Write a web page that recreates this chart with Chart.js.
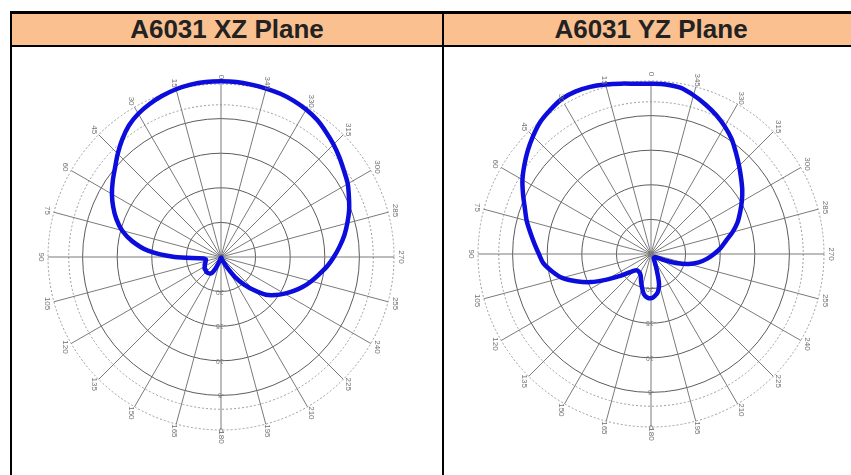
<!DOCTYPE html>
<html>
<head>
<meta charset="utf-8">
<title>A6031 radiation pattern</title>
<script src="https://cdn.jsdelivr.net/npm/chart.js@4.4.1/dist/chart.umd.min.js"></script>
<style>
  body { margin: 0; background: #fff; width: 851px; height: 475px; overflow: hidden; position: relative; font-family: "Liberation Sans", Arial, sans-serif; }
  .line { position: absolute; background: #000; }
  .head { position: absolute; top: 14px; height: 31px; background: #fac090; color: #222; font-weight: bold; font-size: 26px; line-height: 31px; text-align: center; white-space: nowrap; }
  .plot { position: absolute; width: 400px; height: 400px; }
</style>
</head>
<body>
<div class="head" style="left:12px; width:430px;">A6031 XZ Plane</div>
<div class="head" style="left:444px; width:414px;">A6031 YZ Plane</div>
<div class="line" style="left:10px; top:11px; width:841px; height:3px;"></div>
<div class="line" style="left:10px; top:45px; width:841px; height:2px;"></div>
<div class="line" style="left:10px; top:11px; width:2px; height:464px;"></div>
<div class="line" style="left:442px; top:11px; width:2px; height:464px;"></div>
<div class="plot" style="left:21px; top:57px;"><canvas id="xzChart"></canvas></div>
<div class="plot" style="left:451px; top:54px;"><canvas id="yzChart"></canvas></div>

<script>
// angle in degrees, counted counter-clockwise from the top of the plot
const angleDeg = [0, 5, 10, 15, 20, 25, 30, 35, 40, 45, 50, 55,
                  60, 65, 70, 75, 80, 85, 90, 95, 100, 105, 110, 115,
                  120, 125, 130, 135, 140, 145, 150, 155, 160, 165, 170, 175,
                  180, 185, 190, 195, 200, 205, 210, 215, 220, 225, 230, 235,
                  240, 245, 250, 255, 260, 265, 270, 275, 280, 285, 290, 295,
                  300, 305, 310, 315, 320, 325, 330, 335, 340, 345, 350, 355];

// gain in dB, same order as angleDeg
const xzGain = [0.4, 0.4, 0.3, 0.1, -0.2, -0.6, -1.1, -1.8, -2.8, -3.9, -5.0, -5.9,
                -6.8, -7.8, -8.9, -10.2, -12.0, -14.4, -18.3, -22.5, -22.8, -22.7, -22.6, -22.4,
                -22.3, -22.1, -22.1, -22.0, -22.0, -22.1, -22.3, -23.3, -24.3, -24.7, -24.9, -24.9,
                -24.9, -24.9, -24.9, -24.9, -24.8, -24.4, -23.3, -21.4, -19.8, -18.2, -16.5, -15.4,
                -14.4, -13.4, -12.4, -11.5, -10.6, -9.6, -8.7, -7.8, -6.9, -6.1, -5.3, -4.6,
                -3.85, -3.3, -2.65, -2.0, -1.4, -0.8, -0.4, -0.1, 0.1, 0.2, 0.3, 0.4];

const yzGain = [-0.4, -0.3, 0.0, 0.35, 0.7, 0.9, 0.85, 0.4, -0.1, -0.9, -1.75, -2.65,
                -3.55, -4.6, -5.6, -6.4, -7.3, -8.1, -8.8, -9.4, -10.5, -11.7, -13.5, -15.4,
                -17.6, -19.4, -20.8, -21.6, -21.9, -21.9, -21.8, -21.5, -20.8, -20.0, -19.1, -18.7,
                -18.6, -18.9, -19.4, -20.5, -22.6, -23.7, -24.2, -24.3, -24.3, -24.3, -24.3, -24.2,
                -23.9, -22.9, -21.2, -19.4, -18.0, -16.9, -15.9, -14.9, -14.0, -12.8, -11.7, -10.8,
                -9.85, -8.9, -8.0, -7.0, -5.9, -4.7, -3.7, -2.8, -2.0, -1.25, -0.6, -0.4];

// radial rings (dB) and which of them are dotted / labelled
const ringLevels = [-25, -20, -15, -10, -5, -3, 0];
const dottedRings = [-3, 0];
const tickLabels = ['-20', '-15', '-10', '-5', '0'];
const spokeStep = 15;

// chart.js walks clockwise; start at 180 (bottom) so the angles run counter-clockwise from top
const order = angleDeg.map((a, k) => k)
  .sort((p, q) => ((540 - angleDeg[p]) % 360) - ((540 - angleDeg[q]) % 360));
const labels = order.map(k => angleDeg[k]);

// angle labels written sideways just outside the outer ring
const angleLabels = {
  id: 'angleLabels',
  afterDraw(chart) {
    const s = chart.scales.r;
    const ctx = chart.ctx;
    ctx.save();
    ctx.font = '8px "Liberation Sans", Arial, sans-serif';
    ctx.fillStyle = '#707070';
    ctx.textAlign = 'center';
    ctx.textBaseline = 'middle';
    chart.data.labels.forEach((lab, i) => {
      if (lab % spokeStep !== 0) return;
      const p = s.getPointPosition(i, s.drawingArea + 7);
      ctx.save();
      ctx.translate(p.x, p.y);
      ctx.rotate(Math.PI / 2);
      ctx.fillText(String(lab), 0, 0);
      ctx.restore();
    });
    ctx.restore();
  }
};

function makeChart(id, gain) {
  const ctx = document.getElementById(id).getContext('2d');
  return new Chart(ctx, {
    type: 'radar',
    data: {
      labels: labels,
      datasets: [{
        data: order.map(k => gain[k]),
        borderColor: '#0c0cdc',
        borderWidth: 4.5,
        borderJoinStyle: 'round',
        pointRadius: 0,
        fill: false,
        tension: 0.3
      }]
    },
    options: {
      responsive: true,
      maintainAspectRatio: false,
      animation: false,
      layout: { padding: 21 },
      plugins: {
        legend: { display: false },
        tooltip: { enabled: false }
      },
      scales: {
        r: {
          min: -25,
          max: 0,
          startAngle: 180,
          afterBuildTicks: scale => { scale.ticks = ringLevels.map(v => ({ value: v })); },
          grid: {
            circular: true,
            color: c => dottedRings.includes(c.tick.value) ? '#9c9c9c' : '#5c5c5c',
            lineWidth: 1
          },
          border: {
            dash: c => dottedRings.includes(c.tick.value) ? [2, 2] : []
          },
          angleLines: {
            color: c => labels[c.index] % spokeStep === 0 ? '#7a7a7a' : 'rgba(0,0,0,0)',
            lineWidth: c => labels[c.index] % spokeStep === 0 ? 1 : 0
          },
          pointLabels: { display: false },
          ticks: {
            showLabelBackdrop: false,
            color: '#808080',
            font: { size: 7 },
            callback: v => tickLabels.includes(String(v)) ? String(v) : ''
          }
        }
      }
    },
    plugins: [angleLabels]
  });
}

document.addEventListener("DOMContentLoaded", function () {
  makeChart('xzChart', xzGain);
  makeChart('yzChart', yzGain);
});
</script>
</body>
</html>
